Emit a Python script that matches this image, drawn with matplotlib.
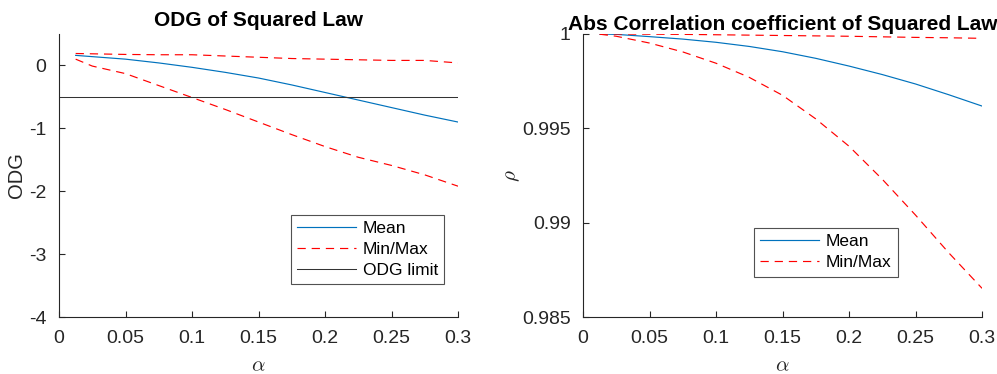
import matplotlib
matplotlib.use("Agg")
import matplotlib.pyplot as plt
from matplotlib.ticker import FuncFormatter

plt.rcParams['font.family'] = ['Liberation Sans', 'DejaVu Sans']
plt.rcParams['axes.unicode_minus'] = False
plt.rcParams['mathtext.fontset'] = 'cm'

################################################################################
### data

alpha = [0.0125, 0.025, 0.05, 0.075, 0.1, 0.125, 0.15, 0.175, 0.2, 0.225, 0.25, 0.275, 0.3]

odg_mean = [0.16, 0.14, 0.10, 0.04, -0.03, -0.11, -0.20, -0.31, -0.43, -0.55, -0.67, -0.79, -0.90]
odg_max = [0.19, 0.185, 0.175, 0.17, 0.17, 0.15, 0.13, 0.11, 0.10, 0.09, 0.08, 0.08, 0.04]
odg_min = [0.10, -0.01, -0.13, -0.32, -0.51, -0.70, -0.90, -1.10, -1.29, -1.46, -1.59, -1.74, -1.92]
odg_limit = -0.5

rho_mean = [1.0, 0.99998, 0.99986, 0.99973, 0.99956, 0.99934, 0.99906, 0.99871,
            0.9983, 0.99785, 0.99735, 0.99678, 0.99618]
rho_max = [1.0, 1.0, 0.99999, 0.99998, 0.99996, 0.99994, 0.99992, 0.9999,
           0.99988, 0.99985, 0.99982, 0.9998, 0.99977]
rho_min = [0.99999, 0.99988, 0.99952, 0.99905, 0.99845, 0.9977, 0.99675, 0.9955,
           0.99405, 0.9923, 0.9904, 0.9884, 0.98652]

x_ticks = [0, 0.05, 0.1, 0.15, 0.2, 0.25, 0.3]
odg_ticks = [-4, -3, -2, -1, 0]
rho_ticks = [0.985, 0.99, 0.995, 1]

blue = '#0072BD'
axcol = '#262626'
dash = (7, 5)

fig = plt.figure(figsize=(9.97, 3.74), dpi=100)
ax1 = fig.add_axes([0.0592, 0.1524, 0.4002, 0.7567])
ax2 = fig.add_axes([0.5848, 0.1524, 0.4002, 0.7567])

fmt = FuncFormatter(lambda v, p: '%g' % v)


def style(ax):
    for s in ['top', 'right']:
        ax.spines[s].set_visible(False)
    for s in ['left', 'bottom']:
        ax.spines[s].set_color(axcol)
        ax.spines[s].set_linewidth(0.8)
    ax.tick_params(direction='in', length=4, width=0.8, colors=axcol,
                   labelsize=14, labelcolor=axcol, pad=9)
    ax.set_xlim(0, 0.3)
    ax.set_xticks(x_ticks)
    ax.xaxis.set_major_formatter(fmt)
    ax.yaxis.set_major_formatter(fmt)
    ax.set_xlabel(r'$\alpha$', fontsize=15, color=axcol, labelpad=7)


# ODG panel
ax1.plot(alpha, odg_mean, color=blue, lw=0.85, label='Mean')
ax1.plot(alpha, odg_max, 'r--', lw=0.85, dashes=dash, label='Min/Max')
ax1.plot(alpha, odg_min, 'r--', lw=0.85, dashes=dash)
ax1.axhline(odg_limit, color='#333333', lw=0.75, label='ODG limit')
style(ax1)
ax1.set_ylim(-4, 0.5)
ax1.set_yticks(odg_ticks)
ax1.set_ylabel('ODG', fontsize=14.5, color=axcol, labelpad=2)
ax1.set_title('ODG of Squared Law', fontsize=15, fontweight='bold', pad=6)
leg = ax1.legend(loc='lower right', bbox_to_anchor=(0.965, 0.115), fontsize=12.5,
                 frameon=True, fancybox=False, edgecolor=axcol, handlelength=3.4,
                 borderpad=0.35, labelspacing=0.35, handletextpad=0.4, borderaxespad=0)
leg.get_frame().set_linewidth(0.8)

# correlation panel
ax2.plot(alpha, rho_mean, color=blue, lw=0.85, label='Mean')
ax2.plot(alpha, rho_max, 'r--', lw=0.85, dashes=dash, label='Min/Max')
ax2.plot(alpha, rho_min, 'r--', lw=0.85, dashes=dash)
style(ax2)
ax2.set_ylim(0.985, 1)
ax2.set_yticks(rho_ticks)
ax2.set_ylabel(r'$\rho$', fontsize=15, color=axcol, labelpad=0)
ax2.set_title('Abs Correlation coefficient of Squared Law', fontsize=15,
              fontweight='bold', pad=2)
leg2 = ax2.legend(loc='lower left', bbox_to_anchor=(0.428, 0.143), fontsize=12.5,
                  frameon=True, fancybox=False, edgecolor=axcol, handlelength=3.4,
                  borderpad=0.35, labelspacing=0.35, handletextpad=0.4, borderaxespad=0)
leg2.get_frame().set_linewidth(0.8)

fig.savefig('out.png', dpi=100)
